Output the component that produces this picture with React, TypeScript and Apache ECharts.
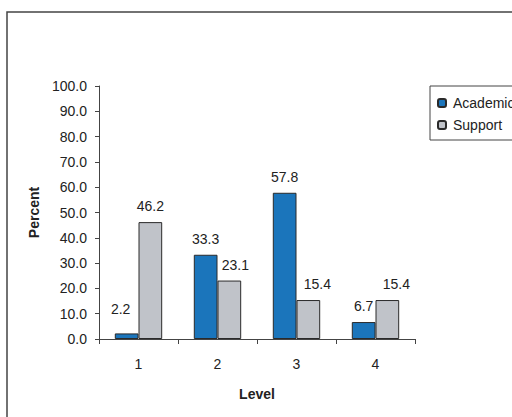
import React, { useEffect, useRef } from "react";
import * as echarts from "echarts";

const levels = ["1", "2", "3", "4"];
const academic = [2.2, 33.3, 57.8, 6.7];
const support = [46.2, 23.1, 15.4, 15.4];

// Horizontal nudges for value labels that sit beside a taller neighbour
const academicLabelShift = [[-6, -8], [0, 0], [0, 0], [0, 0]];
const supportLabelShift = [[0, 0], [6, 0], [9, 0], [9, 0]];

const FONT = 'Arial, "Liberation Sans", sans-serif';

export default function App() {
  const ref = useRef<HTMLDivElement>(null);

  useEffect(() => {
    if (!ref.current) return;
    const chart = echarts.init(ref.current, undefined, { renderer: "svg" });

    const labelStyle = {
      show: true,
      position: "top" as const,
      distance: 9,
      color: "#222",
      fontSize: 14,
      fontFamily: FONT,
      formatter: (p: any) => Number(p.value).toFixed(1),
    };

    const withShift = (values: number[], shifts: number[][]) =>
      values.map((v, i) => ({ value: v, label: { offset: shifts[i] } }));

    chart.setOption({
      animation: false,
      backgroundColor: "#fff",
      textStyle: { fontFamily: FONT },
      graphic: [
        {
          type: "rect",
          shape: { x: 7, y: 12, width: 700, height: 600 },
          style: { fill: "none", stroke: "#444", lineWidth: 1.5 },
          silent: true,
          z: -1,
        },
      ],
      grid: { left: 99, top: 86, right: 97, bottom: 78 },
      legend: {
        orient: "vertical",
        left: 430,
        top: 86,
        padding: [10, 14, 8, 7],
        itemGap: 8,
        itemWidth: 8,
        itemHeight: 8,
        borderColor: "#444",
        borderWidth: 1,
        textStyle: { fontSize: 14, color: "#222", fontFamily: FONT, padding: [0, 0, 0, 2] },
        data: ["Academic", "Support"],
      },
      xAxis: {
        type: "category",
        data: levels,
        name: "Level",
        nameLocation: "middle",
        nameGap: 48,
        nameTextStyle: { fontSize: 14, fontWeight: "bold", color: "#222", fontFamily: FONT },
        axisLine: { lineStyle: { color: "#444", width: 1 } },
        axisTick: { show: true, length: 5, inside: false, lineStyle: { color: "#444" } },
        axisLabel: { fontSize: 14, color: "#222", margin: 18, fontFamily: FONT },
        splitLine: { show: false },
      },
      yAxis: {
        type: "value",
        min: 0,
        max: 100,
        interval: 10,
        name: "Percent",
        nameLocation: "middle",
        nameGap: 57,
        nameRotate: 90,
        nameTextStyle: { fontSize: 14, fontWeight: "bold", color: "#222", fontFamily: FONT },
        axisLine: { show: true, lineStyle: { color: "#444", width: 1 } },
        axisTick: { show: true, length: 4, inside: false, lineStyle: { color: "#444" } },
        axisLabel: {
          fontSize: 14,
          color: "#222",
          margin: 12,
          fontFamily: FONT,
          formatter: (v: number) => v.toFixed(1),
        },
        splitLine: { show: false },
      },
      series: [
        {
          name: "Academic",
          type: "bar",
          barGap: "0%",
          barCategoryGap: "40%",
          data: withShift(academic, academicLabelShift),
          itemStyle: { color: "#1B75BB", borderColor: "#2a2a2a", borderWidth: 1 },
          label: labelStyle,
        },
        {
          name: "Support",
          type: "bar",
          barGap: "0%",
          barCategoryGap: "40%",
          data: withShift(support, supportLabelShift),
          itemStyle: { color: "#C0C3C9", borderColor: "#2a2a2a", borderWidth: 1 },
          label: labelStyle,
        },
      ],
    });

    return () => chart.dispose();
  }, []);

  return (
    <div
      ref={ref}
      style={{ position: "absolute", left: 0, top: 0, width: 512, height: 417 }}
    />
  );
}
